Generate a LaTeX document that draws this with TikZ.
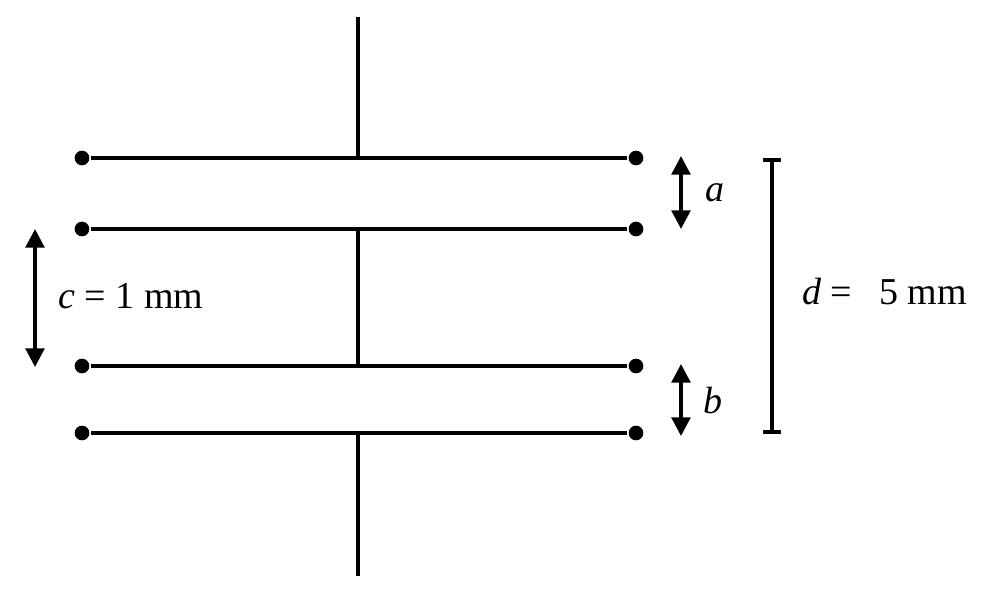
\documentclass[tikz,border=0pt]{standalone}
\usepackage{fontspec}
\setmainfont{Liberation Serif}
\usetikzlibrary{arrows.meta}
\begin{document}
\begin{tikzpicture}[x=0.75pt, y=-0.75pt, line width=2.8pt, line cap=butt,
		>={Triangle[length=14pt, width=14pt]}, font=\fontsize{28.5}{32}\selectfont]
			\tikzset{end dot/.style={circle, fill, inner sep=0pt, minimum size=11pt}}
			\useasboundingbox (0,0) rectangle (985,596);
			% plates
			\foreach \n/\y in {p1/158, p2/229, p3/366, p4/433}{
				\node[end dot] (\n l) at (82,\y) {};
				\node[end dot] (\n r) at (636,\y) {};
				\draw (\n l) -- (\n r);
			}
			% leads
			\coordinate (top) at (358,17);
			\coordinate (bot) at (358,576);
			\draw (top) -- (358,158);
			\draw (358,229) -- (358,366);
			\draw (358,433) -- (bot);
			% gaps
			\draw[<->] (681,156) -- (681,229) node[midway, right=14pt]{\textit{a}};
			\draw[<->] (681,364) -- (681,436) node[midway, right=12pt]{\textit{b}};
			\draw[<->] (35,229) -- (35,367);
			\node[anchor=west] (clab) at (52,296) {\textit{c} = 1 mm};
			\draw[|-|, >={Bar[width=15pt]}] (772,158) -- (772,434);
			\node[anchor=west] (dlab) at (796,292) {\textit{d} = \hspace{13pt}5 mm};
		\end{tikzpicture}
\end{document}
